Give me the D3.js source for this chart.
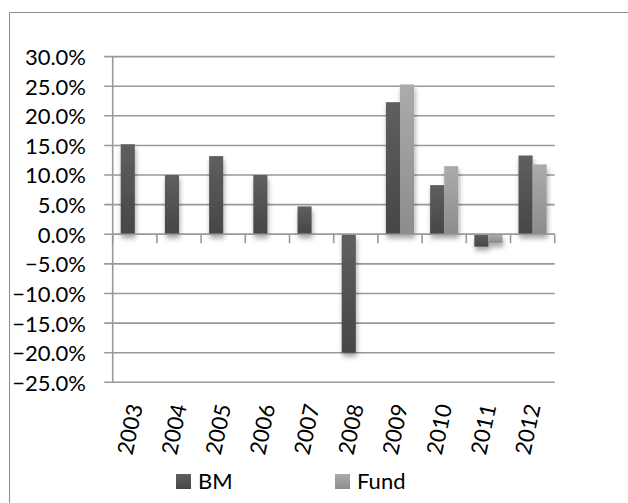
<!DOCTYPE html>
<html>
<head>
<meta charset="utf-8">
<script src="https://cdn.jsdelivr.net/npm/d3@7"></script>
<style>
  html, body { margin: 0; padding: 0; background: #fff; }
  svg { display: block; font-family: Lato, "Open Sans", sans-serif; }
</style>
</head>
<body>
<svg id="chart" width="628" height="503"></svg>
<script>
const years = ["2003","2004","2005","2006","2007","2008","2009","2010","2011","2012"];
const seriesNames = ["BM", "Fund"];
const bmValues   = [15.2, 10.0, 13.2, 10.0, 4.7, -20.0, 22.3, 8.3, -2.1, 13.3];
const fundValues = [null, null, null, null, null, null, 25.3, 11.5, -1.5, 11.8];
const yTicks = [30, 25, 20, 15, 10, 5, 0, -5, -10, -15, -20, -25];

const svg = d3.select("#chart");
const defs = svg.append("defs");

function grad(id, top, bottom) {
  const g = defs.append("linearGradient").attr("id", id)
    .attr("x1", 0).attr("y1", 0).attr("x2", 0).attr("y2", 1);
  g.append("stop").attr("offset", "0%").attr("stop-color", top);
  g.append("stop").attr("offset", "100%").attr("stop-color", bottom);
}
grad("gBM", "#5f5f5f", "#464646");
grad("gFund", "#ababab", "#8c8c8c");

const f = defs.append("filter").attr("id", "shadow")
  .attr("x", "-50%").attr("y", "-20%").attr("width", "200%").attr("height", "140%");
f.append("feDropShadow").attr("dx", 1).attr("dy", 4).attr("stdDeviation", 2.5)
  .attr("flood-color", "#000").attr("flood-opacity", 0.35);

// frame (top + left borders)
svg.append("path").attr("d", "M9.5,503 V12.5 H628")
  .attr("fill", "none").attr("stroke", "#8c8c8c").attr("stroke-width", 1);

const plotLeft = 112.7, plotRight = 554.7;
const x = d3.scaleBand().domain(years).range([plotLeft, plotRight]);
const y = d3.scaleLinear().domain([-25, 30]).range([382.3, 56.6]);
const inner = d3.scaleBand().domain(seriesNames).range([0, x.bandwidth()])
  .paddingOuter(0.57).paddingInner(0);

// gridlines with outward ticks
svg.append("g").selectAll("line").data(yTicks).join("line")
  .attr("x1", plotLeft - 8.5).attr("x2", plotRight)
  .attr("y1", d => y(d)).attr("y2", d => y(d))
  .attr("stroke", "#999").attr("stroke-width", 1.6);

// y axis via d3 axis for labels
const yAxis = d3.axisLeft(y).tickValues(yTicks).tickSize(0).tickPadding(0)
  .tickFormat(d => d3.format(".1f")(d) + "%");
const ya = svg.append("g").attr("transform", `translate(86,0)`).call(yAxis);
ya.select(".domain").remove();
ya.selectAll("text").attr("font-size", 22).attr("fill", "#000")
  .attr("font-family", "Lato, 'Open Sans', sans-serif").attr("dy", "0.36em");

// vertical axis line
svg.append("line").attr("x1", plotLeft).attr("x2", plotLeft)
  .attr("y1", y(30)).attr("y2", y(-25))
  .attr("stroke", "#999").attr("stroke-width", 1.6);

// bars
const rows = years.map((yr, i) => ({ yr, BM: bmValues[i], Fund: fundValues[i] }));
const bars = [];
rows.forEach(r => seriesNames.forEach(s => { if (r[s] !== null) bars.push({ yr: r.yr, s, v: r[s] }); }));

svg.append("g").attr("filter", "url(#shadow)").selectAll("rect").data(bars).join("rect")
  .attr("x", d => x(d.yr) + inner(d.s))
  .attr("width", inner.bandwidth())
  .attr("y", d => y(Math.max(0, d.v)))
  .attr("height", d => Math.abs(y(d.v) - y(0)))
  .attr("fill", d => d.s === "BM" ? "url(#gBM)" : "url(#gFund)");

// x axis line at 0 with ticks down at category boundaries
svg.append("line").attr("x1", plotLeft).attr("x2", plotRight)
  .attr("y1", y(0)).attr("y2", y(0)).attr("stroke", "#999").attr("stroke-width", 1.6);
const bounds = years.map(d => x(d)).concat([plotRight]);
svg.append("g").selectAll("line").data(bounds).join("line")
  .attr("x1", d => d).attr("x2", d => d)
  .attr("y1", y(0)).attr("y2", y(0) + 9)
  .attr("stroke", "#999").attr("stroke-width", 1.6);

// year labels
svg.append("g").selectAll("text").data(years).join("text")
  .attr("transform", d => `translate(${x(d) + x.bandwidth() / 2 + 8},406) rotate(-78)`)
  .attr("text-anchor", "end")
  .attr("font-size", 22).attr("fill", "#000")
  .text(d => d);

// legend
const legend = [
  { name: "BM", fill: "url(#gBM)", x: 176 },
  { name: "Fund", fill: "url(#gFund)", x: 335 }
];
const lg = svg.append("g").selectAll("g").data(legend).join("g")
  .attr("transform", d => `translate(${d.x},474)`);
lg.append("rect").attr("width", 15).attr("height", 15).attr("fill", d => d.fill);
lg.append("text").attr("x", 22).attr("y", 14.5).attr("font-size", 22).attr("fill", "#000")
  .text(d => d.name);
</script>
</body>
</html>
